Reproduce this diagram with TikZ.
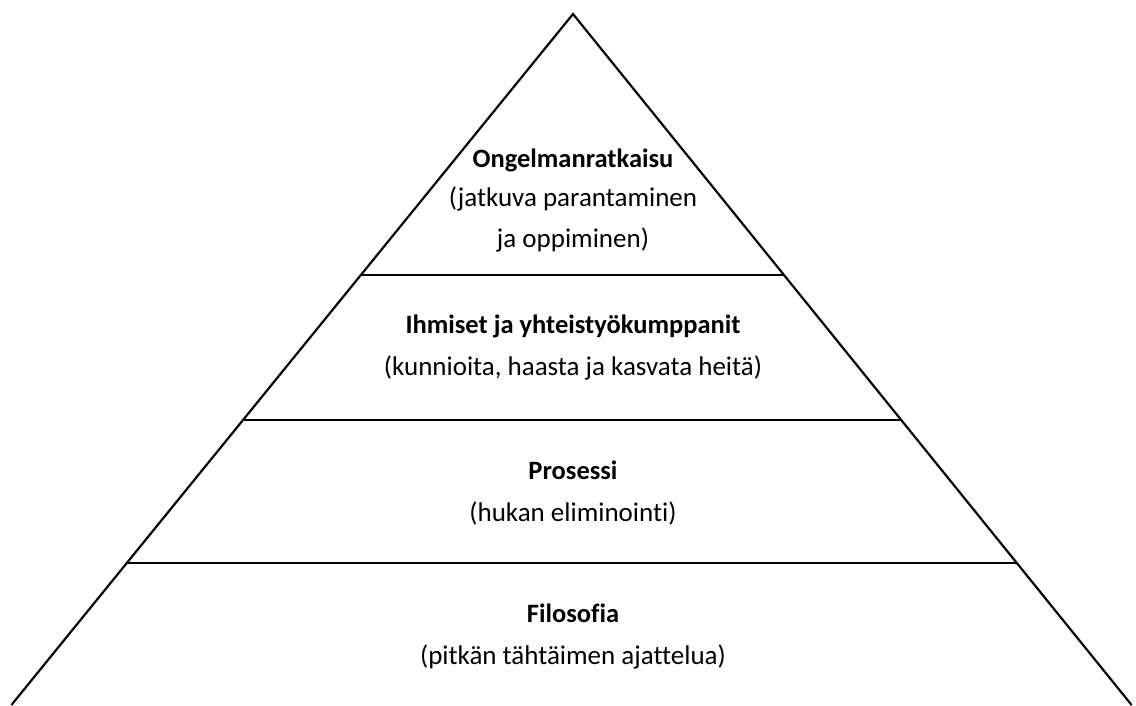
\documentclass[tikz,border=0pt]{standalone}
\usepackage{fontspec}
\setmainfont{Carlito}[Ligatures=CommonOff]
\usetikzlibrary{calc}
\begin{document}
\begin{tikzpicture}[x=1pt,y=-1pt,
  edge/.style={line width=2pt, black},
  shade/.style={line width=2.4pt, black!30},
  title/.style={font=\bfseries\fontsize{26.5}{30}\selectfont, anchor=center, inner sep=0pt},
  sub/.style={font=\fontsize{27}{30}\selectfont, anchor=center, inner sep=0pt}]
\useasboundingbox (0,0) rectangle (1136,705);
\clip (0,0) rectangle (1136,705);
\coordinate (apex) at (573,14);
\coordinate (bl) at (11.4,705);
\coordinate (br) at (1131.6,705);
\coordinate (l1) at ($(apex)!0.3777!(bl)$);
\coordinate (r1) at ($(apex)!0.3777!(br)$);
\coordinate (l2) at ($(apex)!0.5876!(bl)$);
\coordinate (r2) at ($(apex)!0.5876!(br)$);
\coordinate (l3) at ($(apex)!0.7945!(bl)$);
\coordinate (r3) at ($(apex)!0.7945!(br)$);
% shadows
\begin{scope}[shift={(2,3)}]
\draw[shade] (bl) -- (apex) -- (br);
\draw[shade] (l1) -- (r1);
\draw[shade] (l2) -- (r2);
\draw[shade] (l3) -- (r3);
\end{scope}
% outline
\draw[edge, line join=miter] (bl) -- (apex) -- (br);
\draw[edge] (l1) -- (r1);
\draw[edge] (l2) -- (r2);
\draw[edge] (l3) -- (r3);
% texts
\node[title] (t1) at (573,160) {Ongelmanratkaisu};
\node[sub] (s1a) at (573,199) {(jatkuva parantaminen};
\node[sub] (s1b) at (573,240) {ja oppiminen)};
\node[title] (t2) at (573,326) {Ihmiset ja yhteistyökumppanit};
\node[sub] (s2) at (573,368) {(kunnioita, haasta ja kasvata heitä)};
\node[title] (t3) at (573,470) {Prosessi};
\node[sub] (s3) at (573,513) {(hukan eliminointi)};
\node[title] (t4) at (573,613) {Filosofia};
\node[sub] (s4) at (573,657) {(pitkän tähtäimen ajattelua)};
\end{tikzpicture}
\end{document}
